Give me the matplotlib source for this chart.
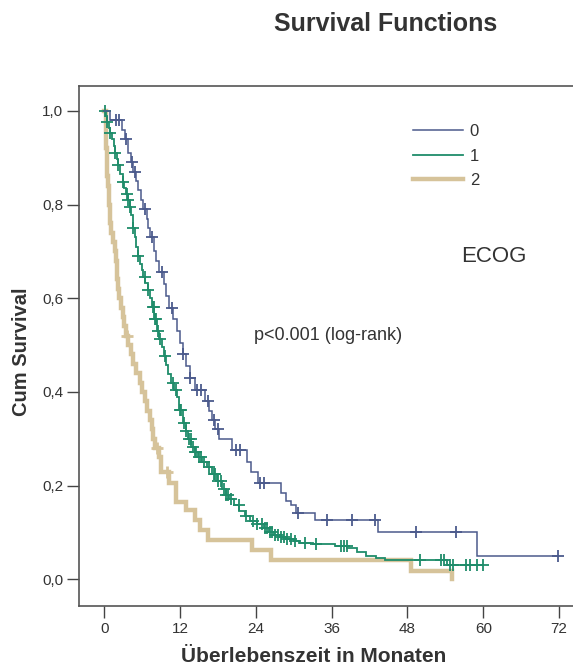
import numpy as np
import matplotlib
matplotlib.use('Agg')
import matplotlib.pyplot as plt
from matplotlib.ticker import FuncFormatter

plt.rcParams['font.family'] = ['Liberation Sans', 'DejaVu Sans']

# ECOG 0: event times (months) and survival after each step
times0 = [0, 0.9, 2.8, 3.3, 3.7, 4.2, 4.6, 5.0, 5.4, 5.8, 6.2, 6.7, 7.0, 7.3, 7.8,
          8.2, 8.7, 9.4, 9.8, 10.2, 10.9, 11.5, 12.0, 12.4, 12.9, 13.5, 14.4, 16.0,
          16.6, 17.0, 17.6, 18.2, 20.2, 22.6, 23.2, 24.3, 27.9, 28.8, 29.6, 30.3,
          33.4, 43.4, 59.0]
surv0 = [1.0, 0.98, 0.96, 0.94, 0.91, 0.89, 0.87, 0.85, 0.83, 0.81, 0.79, 0.77, 0.75,
         0.73, 0.70, 0.68, 0.655, 0.63, 0.605, 0.58, 0.555, 0.53, 0.505, 0.48, 0.455,
         0.43, 0.405, 0.38, 0.36, 0.34, 0.32, 0.30, 0.275, 0.25, 0.23, 0.206, 0.184,
         0.168, 0.158, 0.142, 0.127, 0.101, 0.05]
cens0 = [1.9, 2.4, 3.4, 4.4, 4.8, 6.4, 7.5, 9.1, 10.7, 12.5, 13.6, 14.7, 15.3, 16.4,
         17.3, 18.0, 20.8, 21.5, 24.7, 25.3, 30.7, 35.3, 39.2, 42.9, 49.4, 55.7, 71.8]
end0 = 71.8

# ECOG 1
times1 = [0, 0.2, 0.4, 0.7, 0.9, 1.2, 1.5, 1.7, 2.0, 2.2,
          2.5, 2.9, 3.2, 3.5, 3.7, 4.0, 4.2, 4.5, 4.8, 5.1,
          5.3, 5.6, 5.9, 6.2, 6.5, 6.9, 7.2, 7.5, 7.9, 8.3,
          8.7, 9.1, 9.4, 9.7, 10.1, 10.5, 11.0, 11.5, 11.9, 12.4,
          12.9, 13.3, 13.8, 14.3, 14.8, 15.5, 16.2, 17.0, 17.8, 18.7,
          19.3, 19.8, 20.6, 21.4, 22.2, 23.0, 24.2, 25.3, 26.1, 26.9,
          28.0, 28.8, 30.0, 30.8, 33.0, 36.6, 38.5, 40.0, 41.4, 43.0,
          44.5, 54.3]
surv1 = [1.0, 0.99, 0.976, 0.964, 0.952, 0.94, 0.925, 0.91, 0.897, 0.884,
         0.866, 0.848, 0.835, 0.822, 0.81, 0.794, 0.778, 0.75, 0.73, 0.71,
         0.69, 0.674, 0.66, 0.646, 0.632, 0.618, 0.60, 0.581, 0.556, 0.53,
         0.513, 0.496, 0.477, 0.457, 0.438, 0.419, 0.404, 0.389, 0.362, 0.334,
         0.316, 0.30, 0.282, 0.271, 0.261, 0.250, 0.240, 0.225, 0.209, 0.192,
         0.181, 0.171, 0.158, 0.146, 0.135, 0.125, 0.117, 0.110, 0.102, 0.095,
         0.090, 0.085, 0.081, 0.078, 0.075, 0.072, 0.066, 0.058, 0.05, 0.045,
         0.041, 0.03]
cens1 = [0.1, 0.5, 0.9, 1.7, 2.2, 2.9, 3.6, 3.8, 4.1, 4.6, 5.3, 6.4, 6.9, 7.7, 7.8,
         8.0, 8.2, 8.5, 8.8, 9.6, 10.9, 11.4, 12.0, 12.2, 12.6, 13.0, 13.4, 13.7,
         14.0, 14.4, 14.6, 15.0, 15.3, 15.8, 16.5, 17.4, 17.6, 18.0, 18.4, 18.9,
         19.3, 19.6, 20.0, 21.3, 22.5, 23.5, 24.2, 25.0, 25.5, 25.8, 26.2, 26.6,
         27.0, 27.5, 28.0, 28.5, 29.0, 29.5, 30.2, 31.8, 33.5, 37.5, 38.0, 38.4,
         50.0, 53.3, 53.8, 54.8, 55.2, 57.2, 57.9, 59.0, 60.0]
end1 = 60.0

# ECOG 2
times2 = [0, 0.2, 0.3, 0.4, 0.5, 0.6, 0.8, 0.9, 1.1, 1.4,
          1.7, 1.8, 2.0, 2.2, 2.4, 2.6, 2.9, 3.1, 3.4, 3.7,
          4.2, 4.5, 5.0, 5.6, 6.0, 6.4, 6.8, 7.2, 7.5, 7.7,
          8.0, 8.6, 9.0, 10.3, 11.3, 13.0, 14.3, 15.1, 16.4,
          23.4, 26.4, 48.6, 55.0]
surv2 = [1.0, 0.96, 0.92, 0.90, 0.86, 0.84, 0.80, 0.76, 0.74, 0.72,
         0.70, 0.68, 0.64, 0.62, 0.60, 0.58, 0.56, 0.54, 0.52, 0.50,
         0.48, 0.46, 0.44, 0.42, 0.40, 0.38, 0.36, 0.34, 0.32, 0.30,
         0.28, 0.26, 0.23, 0.206, 0.166, 0.148, 0.127, 0.105, 0.084,
         0.063, 0.041, 0.018, 0.0]
cens2 = [3.6, 8.3, 10.0]
end2 = 55.0

groups = ['0', '1', '2']
colors = ['#4b5a8c', '#1f8c6a', '#d6c39a']
widths = [1.1, 1.3, 3.2]

xticks = [0, 12, 24, 36, 48, 60, 72]
yticks = [0.0, 0.2, 0.4, 0.6, 0.8, 1.0]

W, H = 573, 669
fig = plt.figure(figsize=(W / 100, H / 100), dpi=100)
ax = fig.add_axes([79 / W, 63 / H, (W - 79) / W, (606 - 86) / H])

series = [(times2, surv2, cens2, end2, 2),
          (times1, surv1, cens1, end1, 1),
          (times0, surv0, cens0, end0, 0)]
handles = {}
for t, s, c, end, i in series:
    t = np.array(t)
    s = np.array(s)
    tx = np.append(t, end)
    sx = np.append(s, s[-1])
    line, = ax.step(tx, sx, where='post', color=colors[i], lw=widths[i],
                    solid_joinstyle='miter', zorder=2 + (2 - i))
    handles[i] = line
    # censored observations sit on the curve
    c = np.array(c)
    cy = s[np.searchsorted(t, c, side='right') - 1]
    ax.plot(c, cy, '+', color=colors[i], ms=8, mew=1.3 if i < 2 else 2.0,
            zorder=2 + (2 - i))

ax.set_xlim(-4.0, 74.2)
ax.set_ylim(-0.057, 1.053)
ax.set_xticks(xticks)
ax.set_yticks(yticks)
ax.yaxis.set_major_formatter(FuncFormatter(lambda v, p: ('%.1f' % v).replace('.', ',')))
ax.tick_params(length=8.5, width=1.0, color='#444444', labelcolor='#333333',
               labelsize=11, pad=3)
ax.spines['right'].set_visible(False)
for sp in ['left', 'bottom', 'top']:
    ax.spines[sp].set_color('#555555')
    ax.spines[sp].set_linewidth(1.2)

leg = ax.legend([handles[0], handles[1], handles[2]], groups, frameon=False,
                loc='upper left', bbox_to_anchor=(413 / W, 1 - 124 / H),
                bbox_transform=fig.transFigure, fontsize=12, handlelength=3.0,
                handletextpad=0.4, labelspacing=0.58, borderpad=0,
                borderaxespad=0)
for txt in leg.get_texts():
    txt.set_color('#333333')

fig.text(386 / W, 1 - 24 / H, 'Survival Functions', ha='center', va='center',
         fontsize=18, fontweight='bold', color='#333333')
fig.text(494 / W, 1 - 256 / H, 'ECOG', ha='center', va='center', fontsize=16,
         color='#333333')
fig.text(254 / W, 1 - 335 / H, 'p<0.001 (log-rank)', ha='left', va='center',
         fontsize=13, color='#333333')
fig.text(22 / W, 1 - 352 / H, 'Cum Survival', ha='center', va='center',
         rotation=90, fontsize=14.5, fontweight='bold', color='#333333')
fig.text(314 / W, 1 - 657 / H, 'Überlebenszeit in Monaten', ha='center',
         va='center', fontsize=15, fontweight='bold', color='#333333')

fig.savefig('out.png', dpi=100)
